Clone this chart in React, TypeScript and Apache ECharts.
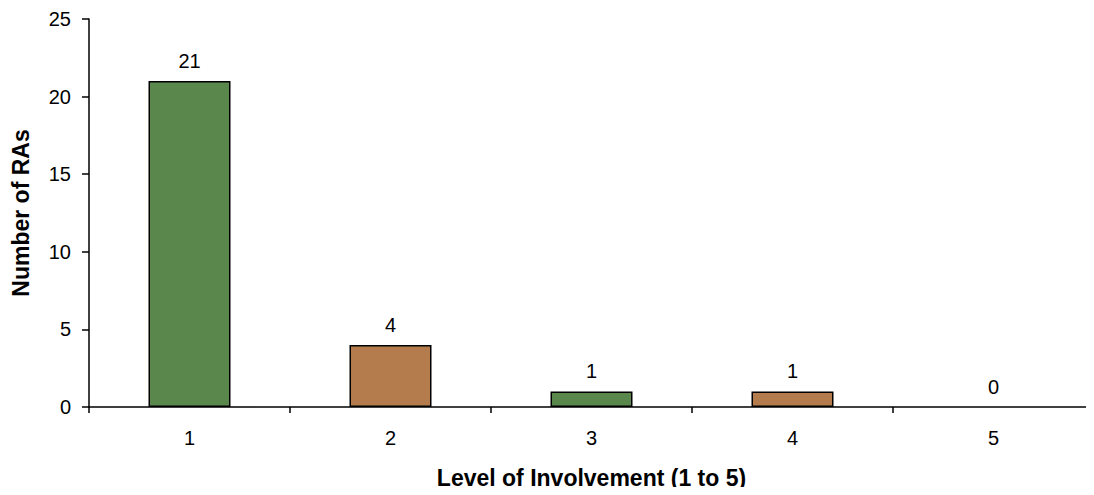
import React, { useEffect, useRef } from "react";
import * as echarts from "echarts";

// Level-of-involvement survey: number of RAs per level
const levels = ["1", "2", "3", "4", "5"];
const raCounts = [21, 4, 1, 1, 0];
const barColors = ["#5a874b", "#b47c4c", "#5a874b", "#b47c4c", "#5a874b"];
const yTicks = { min: 0, max: 25, interval: 5 };

const FONT = "'Liberation Sans', Arial, sans-serif";

export default function App() {
  const ref = useRef<HTMLDivElement>(null);

  useEffect(() => {
    if (!ref.current) return;
    const chart = echarts.init(ref.current, null, { renderer: "svg" });
    chart.setOption({
      animation: false,
      backgroundColor: "#ffffff",
      grid: { left: 89, width: 1010, top: 19, bottom: 88, containLabel: false },
      xAxis: {
        type: "category",
        data: levels,
        name: "Level of Involvement (1 to 5)",
        nameLocation: "middle",
        nameGap: 59,
        nameTextStyle: { fontFamily: FONT, fontSize: 23, fontWeight: "bold", color: "#000" },
        axisLine: { lineStyle: { color: "#000", width: 1.5 } },
        axisTick: { show: true, length: 6, lineStyle: { color: "#000", width: 1.5 } },
        axisLabel: { fontFamily: FONT, fontSize: 20, color: "#000", margin: 21 },
        splitLine: { show: false },
      },
      yAxis: {
        type: "value",
        min: yTicks.min,
        max: yTicks.max,
        interval: yTicks.interval,
        name: "Number of RAs",
        nameLocation: "middle",
        nameGap: 57,
        nameTextStyle: { fontFamily: FONT, fontSize: 23, fontWeight: "bold", color: "#000" },
        axisLine: { show: true, lineStyle: { color: "#000", width: 1.5 } },
        axisTick: { show: true, length: 7, lineStyle: { color: "#000", width: 1.5 } },
        axisLabel: { fontFamily: FONT, fontSize: 20, color: "#000", margin: 18 },
        splitLine: { show: false },
      },
      series: [
        {
          type: "bar",
          barWidth: 82,
          data: raCounts.map((v, i) => ({
            value: v,
            itemStyle: {
              color: barColors[i],
              borderColor: "#000",
              borderWidth: v === 0 ? 0 : 1.5,
            },
          })),
          label: {
            show: true,
            position: "top",
            distance: 10,
            fontFamily: FONT,
            fontSize: 20,
            color: "#000",
          },
        },
      ],
    });
    return () => chart.dispose();
  }, []);

  return <div ref={ref} style={{ width: 1094, height: 495, margin: -8 }} />;
}
